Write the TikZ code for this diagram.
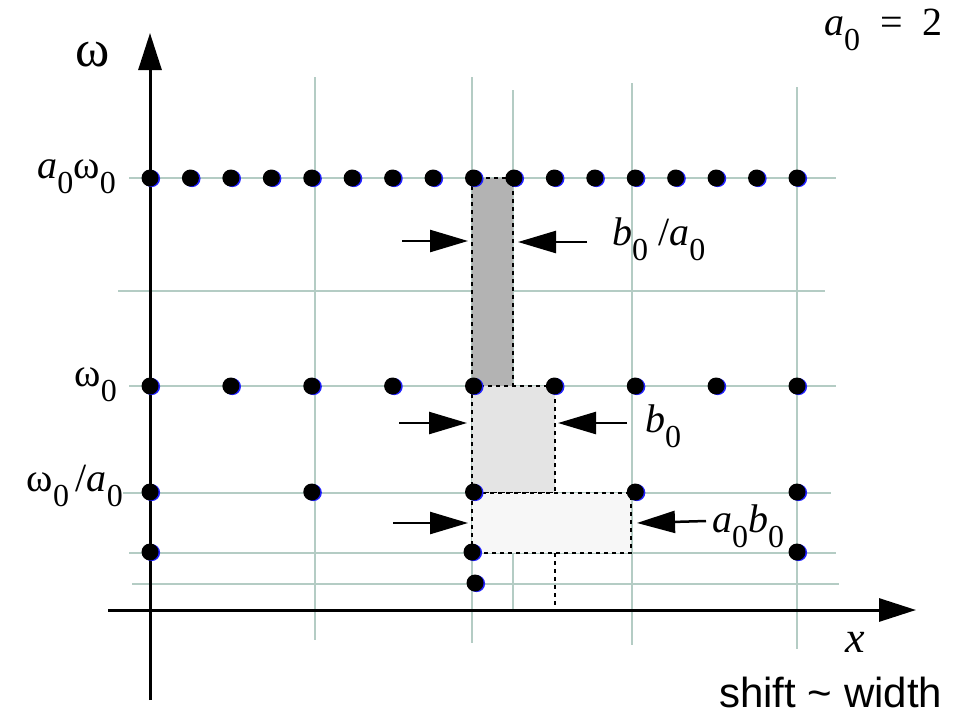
\documentclass[tikz,border=0pt]{standalone}
\usepackage{fontspec}
\setmainfont{Liberation Serif}
\setsansfont{Liberation Sans}
\usetikzlibrary{arrows.meta}
\definecolor{gridc}{HTML}{B4CCC4}
\definecolor{darkfill}{HTML}{B3B3B3}
\definecolor{midfill}{HTML}{E4E4E4}
\definecolor{lightfill}{HTML}{F7F7F7}
\definecolor{dotblue}{HTML}{2020FF}
\newcommand\subz{\raisebox{-15pt}{\fontsize{32}{32}\selectfont 0}}
\newcommand\ia{\textit{a}}
\newcommand\ib{\textit{b}}
\tikzset{
  gridline/.style={draw=gridc, line width=1.5pt},
  axisline/.style={draw=black, line width=3pt, -{Triangle[length=37pt,width=23pt]}},
  marker/.style={line width=2.5pt, -{Triangle[length=38pt,width=22pt]}},
  region/.style={draw=black, line width=1.3pt, dash pattern=on 4pt off 4pt},
  lab/.style={inner sep=0pt, font=\fontsize{40}{40}\selectfont},
}
\newcommand\gdot[2]{\fill[dotblue] (#1+1.6,#2+0.6) circle (8.5pt); \fill[black] (#1,#2) circle (8.5pt);}
\begin{document}
\begin{tikzpicture}[x=1pt,y=-1pt]
\useasboundingbox (0,0) rectangle (956,715);
% grid
\draw[gridline] (129,178) -- (836,178);
\draw[gridline] (118,291) -- (825,291);
\draw[gridline] (129,386) -- (836,386);
\draw[gridline] (123,493) -- (831,493);
\draw[gridline] (129,553) -- (836,553);
\draw[gridline] (132,584) -- (839,584);
\draw[gridline] (315,77) -- (315,640);
\draw[gridline] (472,77) -- (472,643);
\draw[gridline] (513,90) -- (513,610);
\draw[gridline] (632,83) -- (632,645);
\draw[gridline] (797,87) -- (797,649);
% shaded cells
\filldraw[region, fill=darkfill] (472,178) rectangle (513,386);
\filldraw[region, fill=midfill] (472,386) rectangle (555,493);
\filldraw[region, fill=lightfill] (472,493) rectangle (631,553);
\draw[region] (555,553) -- (555,610);
% axes
\coordinate (ybot) at (150,700);
\coordinate (ytop) at (150,33);
\coordinate (xl) at (108,610);
\coordinate (xr) at (916,610);
\draw[axisline] (ybot) -- (ytop);
\draw[axisline] (xl) -- (xr);
% dots
\foreach \i in {0,...,16} {\gdot{150+\i*40.4375}{178}}
\foreach \i in {0,...,8} {\gdot{150+\i*80.875}{386}}
\foreach \i in {0,...,4} {\gdot{150+\i*161.75}{492}}
\gdot{150}{552}
\gdot{472}{552}
\gdot{797}{552}
\gdot{475}{583}
% width markers
\coordinate (a1s) at (402,241); \coordinate (a1e) at (468,241);
\coordinate (b1s) at (587,242); \coordinate (b1e) at (518,242);
\coordinate (a2s) at (399,423); \coordinate (a2e) at (467,423);
\coordinate (b2s) at (627,423); \coordinate (b2e) at (558,423);
\coordinate (a3s) at (393,523); \coordinate (a3e) at (468,523);
\coordinate (b3s) at (706,521); \coordinate (b3e) at (637,523);
\draw[marker] (a1s) -- (a1e);
\draw[marker] (b1s) -- (b1e);
\draw[marker] (a2s) -- (a2e);
\draw[marker] (b2s) -- (b2e);
\draw[marker] (a3s) -- (a3e);
\draw[marker] (b3s) -- (b3e);
% labels
\node[lab, anchor=base, font=\fontsize{52}{52}\selectfont] (lomega) at (93,66) {ω};
\node[lab, anchor=base east] (la0w0) at (116,178) {\ia\subz ω\subz};
\node[lab, anchor=base east] (lw0) at (117,386) {ω\subz};
\node[lab, anchor=base east] (lw0a0) at (123,491) {ω\subz\,/\ia\subz};
\node[lab, anchor=base west] (lb0a0) at (612,245) {\ib\subz\ /\ia\subz};
\node[lab, anchor=base west] (lb0) at (645,432) {\ib\subz};
\node[lab, anchor=base west] (la0b0) at (712,532) {\ia\subz\ib\subz};
\node[lab, anchor=base west] (la0eq) at (824,35) {\ia\subz\ \ =\ \ 2};
\node[lab, anchor=base west, font=\fontsize{44}{44}\selectfont\itshape] (lx) at (845,652) {x};
\node[lab, anchor=base west, font=\fontsize{42}{42}\sffamily] (lshift) at (719,707) {shift \char"7E\ width};
\end{tikzpicture}
\end{document}
